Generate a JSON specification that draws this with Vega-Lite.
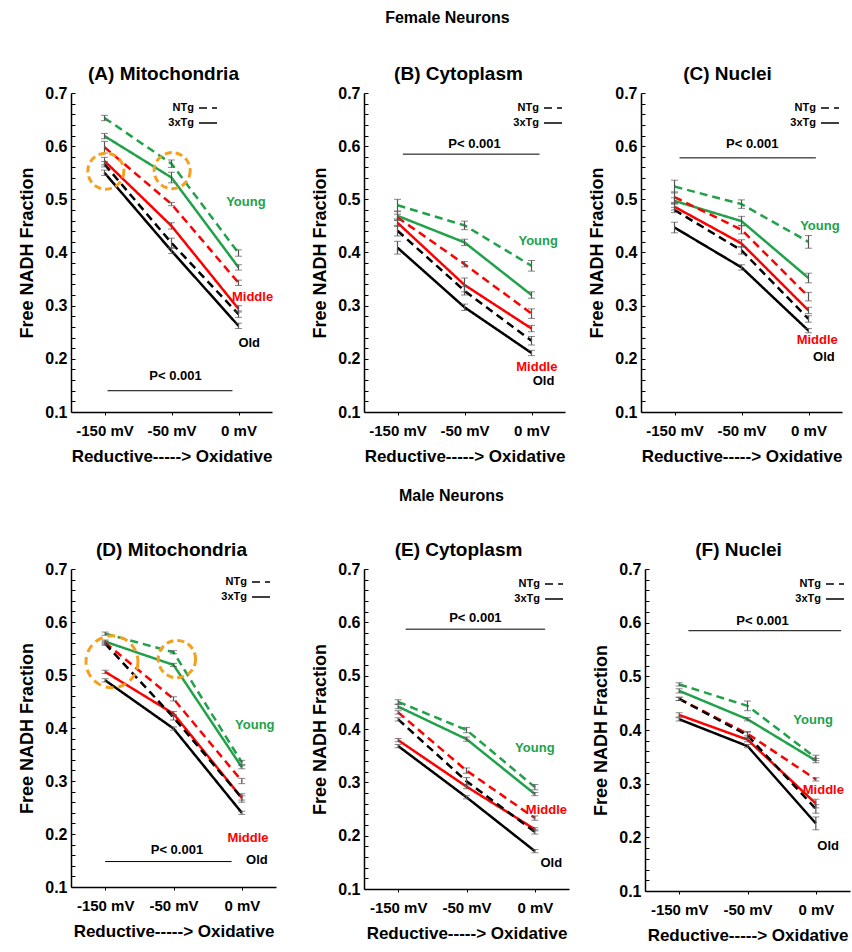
{
  "$schema": "https://vega.github.io/schema/vega-lite/v6.json",
  "background": "white",
  "padding": {"left": 18, "top": 10, "right": 1, "bottom": 1},
  "config": {
    "font": "Liberation Sans",
    "view": {"stroke": null},
    "axis": {"domainColor": "black", "domainWidth": 1.5, "tickColor": "black", "tickWidth": 1, "labelColor": "black", "labelFontWeight": "bold", "titleFontWeight": "bold", "titleColor": "black", "grid": false, "labelFont": "Liberation Sans", "titleFont": "Liberation Sans"},
    "axisY": {"tickSize": -4, "labelPadding": 8, "titlePadding": 8, "labelFontSize": 16, "titleFontSize": 18, "labelOverlap": false},
    "axisX": {"tickSize": 3, "labelPadding": 8, "titlePadding": 10, "labelFontSize": 15, "titleFontSize": 17, "labelOverlap": false},
    "title": {"font": "Liberation Sans", "fontWeight": "bold", "color": "black"},
    "legend": {"orient": "none", "title": null, "symbolType": "stroke", "symbolSize": 324, "symbolStrokeWidth": 1.5, "symbolStrokeColor": "black", "labelAlign": "right", "labelOffset": -24, "labelFontSize": 11, "labelFontWeight": "bold", "labelColor": "black", "rowPadding": 0}
  },
  "datasets": {
    "series": [
      {"panel": "A", "age": "Young", "genotype": "NTg", "step": 0, "v": 0.653, "se": 0.005},
      {"panel": "A", "age": "Young", "genotype": "NTg", "step": 1, "v": 0.567, "se": 0.007},
      {"panel": "A", "age": "Young", "genotype": "NTg", "step": 2, "v": 0.399, "se": 0.006},
      {"panel": "A", "age": "Young", "genotype": "3xTg", "step": 0, "v": 0.619, "se": 0.005},
      {"panel": "A", "age": "Young", "genotype": "3xTg", "step": 1, "v": 0.541, "se": 0.01},
      {"panel": "A", "age": "Young", "genotype": "3xTg", "step": 2, "v": 0.372, "se": 0.005},
      {"panel": "A", "age": "Middle", "genotype": "NTg", "step": 0, "v": 0.598, "se": 0.011},
      {"panel": "A", "age": "Middle", "genotype": "NTg", "step": 1, "v": 0.491, "se": 0.003},
      {"panel": "A", "age": "Middle", "genotype": "NTg", "step": 2, "v": 0.343, "se": 0.005},
      {"panel": "A", "age": "Middle", "genotype": "3xTg", "step": 0, "v": 0.572, "se": 0.007},
      {"panel": "A", "age": "Middle", "genotype": "3xTg", "step": 1, "v": 0.45, "se": 0.006},
      {"panel": "A", "age": "Middle", "genotype": "3xTg", "step": 2, "v": 0.294, "se": 0.006},
      {"panel": "A", "age": "Old", "genotype": "NTg", "step": 0, "v": 0.566, "se": 0.005},
      {"panel": "A", "age": "Old", "genotype": "NTg", "step": 1, "v": 0.418, "se": 0.009},
      {"panel": "A", "age": "Old", "genotype": "NTg", "step": 2, "v": 0.284, "se": 0.006},
      {"panel": "A", "age": "Old", "genotype": "3xTg", "step": 0, "v": 0.55, "se": 0.005},
      {"panel": "A", "age": "Old", "genotype": "3xTg", "step": 1, "v": 0.403, "se": 0.005},
      {"panel": "A", "age": "Old", "genotype": "3xTg", "step": 2, "v": 0.262, "se": 0.005},

      {"panel": "B", "age": "Young", "genotype": "NTg", "step": 0, "v": 0.489, "se": 0.011},
      {"panel": "B", "age": "Young", "genotype": "NTg", "step": 1, "v": 0.451, "se": 0.008},
      {"panel": "B", "age": "Young", "genotype": "NTg", "step": 2, "v": 0.375, "se": 0.01},
      {"panel": "B", "age": "Young", "genotype": "3xTg", "step": 0, "v": 0.469, "se": 0.008},
      {"panel": "B", "age": "Young", "genotype": "3xTg", "step": 1, "v": 0.419, "se": 0.006},
      {"panel": "B", "age": "Young", "genotype": "3xTg", "step": 2, "v": 0.32, "se": 0.006},
      {"panel": "B", "age": "Middle", "genotype": "NTg", "step": 0, "v": 0.466, "se": 0.006},
      {"panel": "B", "age": "Middle", "genotype": "NTg", "step": 1, "v": 0.378, "se": 0.005},
      {"panel": "B", "age": "Middle", "genotype": "NTg", "step": 2, "v": 0.285, "se": 0.009},
      {"panel": "B", "age": "Middle", "genotype": "3xTg", "step": 0, "v": 0.456, "se": 0.007},
      {"panel": "B", "age": "Middle", "genotype": "3xTg", "step": 1, "v": 0.339, "se": 0.013},
      {"panel": "B", "age": "Middle", "genotype": "3xTg", "step": 2, "v": 0.257, "se": 0.006},
      {"panel": "B", "age": "Old", "genotype": "NTg", "step": 0, "v": 0.441, "se": 0.01},
      {"panel": "B", "age": "Old", "genotype": "NTg", "step": 1, "v": 0.328, "se": 0.008},
      {"panel": "B", "age": "Old", "genotype": "NTg", "step": 2, "v": 0.234, "se": 0.008},
      {"panel": "B", "age": "Old", "genotype": "3xTg", "step": 0, "v": 0.409, "se": 0.012},
      {"panel": "B", "age": "Old", "genotype": "3xTg", "step": 1, "v": 0.297, "se": 0.006},
      {"panel": "B", "age": "Old", "genotype": "3xTg", "step": 2, "v": 0.211, "se": 0.005},

      {"panel": "C", "age": "Young", "genotype": "NTg", "step": 0, "v": 0.524, "se": 0.012},
      {"panel": "C", "age": "Young", "genotype": "NTg", "step": 1, "v": 0.491, "se": 0.008},
      {"panel": "C", "age": "Young", "genotype": "NTg", "step": 2, "v": 0.42, "se": 0.012},
      {"panel": "C", "age": "Young", "genotype": "3xTg", "step": 0, "v": 0.497, "se": 0.006},
      {"panel": "C", "age": "Young", "genotype": "3xTg", "step": 1, "v": 0.459, "se": 0.009},
      {"panel": "C", "age": "Young", "genotype": "3xTg", "step": 2, "v": 0.352, "se": 0.009},
      {"panel": "C", "age": "Middle", "genotype": "NTg", "step": 0, "v": 0.504, "se": 0.01},
      {"panel": "C", "age": "Middle", "genotype": "NTg", "step": 1, "v": 0.443, "se": 0.008},
      {"panel": "C", "age": "Middle", "genotype": "NTg", "step": 2, "v": 0.317, "se": 0.008},
      {"panel": "C", "age": "Middle", "genotype": "3xTg", "step": 0, "v": 0.486, "se": 0.006},
      {"panel": "C", "age": "Middle", "genotype": "3xTg", "step": 1, "v": 0.417, "se": 0.007},
      {"panel": "C", "age": "Middle", "genotype": "3xTg", "step": 2, "v": 0.291, "se": 0.006},
      {"panel": "C", "age": "Old", "genotype": "NTg", "step": 0, "v": 0.48, "se": 0.005},
      {"panel": "C", "age": "Old", "genotype": "NTg", "step": 1, "v": 0.404, "se": 0.007},
      {"panel": "C", "age": "Old", "genotype": "NTg", "step": 2, "v": 0.275, "se": 0.006},
      {"panel": "C", "age": "Old", "genotype": "3xTg", "step": 0, "v": 0.447, "se": 0.01},
      {"panel": "C", "age": "Old", "genotype": "3xTg", "step": 1, "v": 0.372, "se": 0.005},
      {"panel": "C", "age": "Old", "genotype": "3xTg", "step": 2, "v": 0.253, "se": 0.004},

      {"panel": "D", "age": "Young", "genotype": "NTg", "step": 0, "v": 0.578, "se": 0.003},
      {"panel": "D", "age": "Young", "genotype": "NTg", "step": 1, "v": 0.543, "se": 0.003},
      {"panel": "D", "age": "Young", "genotype": "NTg", "step": 2, "v": 0.335, "se": 0.004},
      {"panel": "D", "age": "Young", "genotype": "3xTg", "step": 0, "v": 0.563, "se": 0.003},
      {"panel": "D", "age": "Young", "genotype": "3xTg", "step": 1, "v": 0.519, "se": 0.003},
      {"panel": "D", "age": "Young", "genotype": "3xTg", "step": 2, "v": 0.326, "se": 0.003},
      {"panel": "D", "age": "Middle", "genotype": "NTg", "step": 0, "v": 0.561, "se": 0.003},
      {"panel": "D", "age": "Middle", "genotype": "NTg", "step": 1, "v": 0.455, "se": 0.004},
      {"panel": "D", "age": "Middle", "genotype": "NTg", "step": 2, "v": 0.3, "se": 0.005},
      {"panel": "D", "age": "Middle", "genotype": "3xTg", "step": 0, "v": 0.506, "se": 0.003},
      {"panel": "D", "age": "Middle", "genotype": "3xTg", "step": 1, "v": 0.427, "se": 0.004},
      {"panel": "D", "age": "Middle", "genotype": "3xTg", "step": 2, "v": 0.268, "se": 0.004},
      {"panel": "D", "age": "Old", "genotype": "NTg", "step": 0, "v": 0.559, "se": 0.003},
      {"panel": "D", "age": "Old", "genotype": "NTg", "step": 1, "v": 0.42, "se": 0.005},
      {"panel": "D", "age": "Old", "genotype": "NTg", "step": 2, "v": 0.268, "se": 0.008},
      {"panel": "D", "age": "Old", "genotype": "3xTg", "step": 0, "v": 0.49, "se": 0.003},
      {"panel": "D", "age": "Old", "genotype": "3xTg", "step": 1, "v": 0.399, "se": 0.003},
      {"panel": "D", "age": "Old", "genotype": "3xTg", "step": 2, "v": 0.24, "se": 0.003},

      {"panel": "E", "age": "Young", "genotype": "NTg", "step": 0, "v": 0.451, "se": 0.004},
      {"panel": "E", "age": "Young", "genotype": "NTg", "step": 1, "v": 0.398, "se": 0.005},
      {"panel": "E", "age": "Young", "genotype": "NTg", "step": 2, "v": 0.291, "se": 0.005},
      {"panel": "E", "age": "Young", "genotype": "3xTg", "step": 0, "v": 0.442, "se": 0.004},
      {"panel": "E", "age": "Young", "genotype": "3xTg", "step": 1, "v": 0.381, "se": 0.004},
      {"panel": "E", "age": "Young", "genotype": "3xTg", "step": 2, "v": 0.278, "se": 0.003},
      {"panel": "E", "age": "Middle", "genotype": "NTg", "step": 0, "v": 0.431, "se": 0.003},
      {"panel": "E", "age": "Middle", "genotype": "NTg", "step": 1, "v": 0.322, "se": 0.005},
      {"panel": "E", "age": "Middle", "genotype": "NTg", "step": 2, "v": 0.233, "se": 0.004},
      {"panel": "E", "age": "Middle", "genotype": "3xTg", "step": 0, "v": 0.379, "se": 0.003},
      {"panel": "E", "age": "Middle", "genotype": "3xTg", "step": 1, "v": 0.292, "se": 0.004},
      {"panel": "E", "age": "Middle", "genotype": "3xTg", "step": 2, "v": 0.212, "se": 0.003},
      {"panel": "E", "age": "Old", "genotype": "NTg", "step": 0, "v": 0.418, "se": 0.003},
      {"panel": "E", "age": "Old", "genotype": "NTg", "step": 1, "v": 0.302, "se": 0.007},
      {"panel": "E", "age": "Old", "genotype": "NTg", "step": 2, "v": 0.207, "se": 0.004},
      {"panel": "E", "age": "Old", "genotype": "3xTg", "step": 0, "v": 0.368, "se": 0.003},
      {"panel": "E", "age": "Old", "genotype": "3xTg", "step": 1, "v": 0.272, "se": 0.003},
      {"panel": "E", "age": "Old", "genotype": "3xTg", "step": 2, "v": 0.171, "se": 0.003},

      {"panel": "F", "age": "Young", "genotype": "NTg", "step": 0, "v": 0.485, "se": 0.003},
      {"panel": "F", "age": "Young", "genotype": "NTg", "step": 1, "v": 0.445, "se": 0.009},
      {"panel": "F", "age": "Young", "genotype": "NTg", "step": 2, "v": 0.348, "se": 0.005},
      {"panel": "F", "age": "Young", "genotype": "3xTg", "step": 0, "v": 0.473, "se": 0.004},
      {"panel": "F", "age": "Young", "genotype": "3xTg", "step": 1, "v": 0.42, "se": 0.003},
      {"panel": "F", "age": "Young", "genotype": "3xTg", "step": 2, "v": 0.343, "se": 0.004},
      {"panel": "F", "age": "Middle", "genotype": "NTg", "step": 0, "v": 0.458, "se": 0.003},
      {"panel": "F", "age": "Middle", "genotype": "NTg", "step": 1, "v": 0.393, "se": 0.004},
      {"panel": "F", "age": "Middle", "genotype": "NTg", "step": 2, "v": 0.308, "se": 0.003},
      {"panel": "F", "age": "Middle", "genotype": "3xTg", "step": 0, "v": 0.428, "se": 0.004},
      {"panel": "F", "age": "Middle", "genotype": "3xTg", "step": 1, "v": 0.382, "se": 0.004},
      {"panel": "F", "age": "Middle", "genotype": "3xTg", "step": 2, "v": 0.263, "se": 0.008},
      {"panel": "F", "age": "Old", "genotype": "NTg", "step": 0, "v": 0.458, "se": 0.003},
      {"panel": "F", "age": "Old", "genotype": "NTg", "step": 1, "v": 0.39, "se": 0.006},
      {"panel": "F", "age": "Old", "genotype": "NTg", "step": 2, "v": 0.253, "se": 0.008},
      {"panel": "F", "age": "Old", "genotype": "3xTg", "step": 0, "v": 0.42, "se": 0.003},
      {"panel": "F", "age": "Old", "genotype": "3xTg", "step": 1, "v": 0.37, "se": 0.003},
      {"panel": "F", "age": "Old", "genotype": "3xTg", "step": 2, "v": 0.226, "se": 0.012}
    ],
    "notes": [
      {"panel": "A", "kind": "age", "age": "Young", "label": "Young", "step": 2.11, "v": 0.495},
      {"panel": "A", "kind": "age", "age": "Middle", "label": "Middle", "step": 2.21, "v": 0.316},
      {"panel": "A", "kind": "age", "age": "Old", "label": "Old", "step": 2.16, "v": 0.23},
      {"panel": "A", "kind": "ptext", "label": "P< 0.001", "step": 1.06, "v": 0.167},
      {"panel": "A", "kind": "prule", "step": 0.045, "step2": 1.91, "v": 0.14},
      {"panel": "B", "kind": "age", "age": "Young", "label": "Young", "step": 2.1, "v": 0.421},
      {"panel": "B", "kind": "age", "age": "Middle", "label": "Middle", "step": 2.08, "v": 0.185},
      {"panel": "B", "kind": "age", "age": "Old", "label": "Old", "step": 2.18, "v": 0.158},
      {"panel": "B", "kind": "ptext", "label": "P< 0.001", "step": 1.15, "v": 0.605},
      {"panel": "B", "kind": "prule", "step": 0.08, "step2": 2.12, "v": 0.585},
      {"panel": "C", "kind": "age", "age": "Young", "label": "Young", "step": 2.17, "v": 0.45},
      {"panel": "C", "kind": "age", "age": "Middle", "label": "Middle", "step": 2.13, "v": 0.236},
      {"panel": "C", "kind": "age", "age": "Old", "label": "Old", "step": 2.23, "v": 0.203},
      {"panel": "C", "kind": "ptext", "label": "P< 0.001", "step": 1.16, "v": 0.604},
      {"panel": "C", "kind": "prule", "step": 0.075, "step2": 2.11, "v": 0.578},
      {"panel": "D", "kind": "age", "age": "Young", "label": "Young", "step": 2.19, "v": 0.406},
      {"panel": "D", "kind": "age", "age": "Middle", "label": "Middle", "step": 2.09, "v": 0.193},
      {"panel": "D", "kind": "age", "age": "Old", "label": "Old", "step": 2.22, "v": 0.151},
      {"panel": "D", "kind": "ptext", "label": "P< 0.001", "step": 1.05, "v": 0.17},
      {"panel": "D", "kind": "prule", "step": 0, "step2": 1.85, "v": 0.148},
      {"panel": "E", "kind": "age", "age": "Young", "label": "Young", "step": 2.0, "v": 0.365},
      {"panel": "E", "kind": "age", "age": "Middle", "label": "Middle", "step": 2.17, "v": 0.249},
      {"panel": "E", "kind": "age", "age": "Old", "label": "Old", "step": 2.24, "v": 0.148},
      {"panel": "E", "kind": "ptext", "label": "P< 0.001", "step": 1.13, "v": 0.608},
      {"panel": "E", "kind": "prule", "step": 0.11, "step2": 2.15, "v": 0.587},
      {"panel": "F", "kind": "age", "age": "Young", "label": "Young", "step": 1.96, "v": 0.418},
      {"panel": "F", "kind": "age", "age": "Middle", "label": "Middle", "step": 2.11, "v": 0.288},
      {"panel": "F", "kind": "age", "age": "Old", "label": "Old", "step": 2.18, "v": 0.184},
      {"panel": "F", "kind": "ptext", "label": "P< 0.001", "step": 1.22, "v": 0.603},
      {"panel": "F", "kind": "prule", "step": 0.135, "step2": 2.37, "v": 0.585}
    ],
    "rings": [
      {"panel": "A", "ring": "first", "step": 0.02, "v": 0.553},
      {"panel": "A", "ring": "second", "step": 1.01, "v": 0.554},
      {"panel": "D", "ring": "first", "step": 0.1, "v": 0.525},
      {"panel": "D", "ring": "second", "step": 1.05, "v": 0.53}
    ]
  },
  "resolve": {"scale": {"color": "independent", "strokeDash": "independent"}, "legend": {"strokeDash": "independent", "color": "independent"}},
  "spacing": 24,
  "vconcat": [
    {
      "title": {"text": "Female Neurons", "fontSize": 16, "anchor": "middle", "offset": 39, "dx": 17},
      "spacing": 37,
      "resolve": {"scale": {"color": "independent", "strokeDash": "independent"}, "legend": {"strokeDash": "independent", "color": "independent"}},
      "hconcat": [
        {
          "width": 201, "height": 319,
          "title": {"text": "(A) Mitochondria", "fontSize": 19, "anchor": "middle", "frame": "group", "offset": 1, "dx": -8},
          "encoding": {
            "x": {"field": "step", "type": "quantitative", "scale": {"domain": [-0.5, 2.5]}, "axis": {"values": [0, 1, 2], "labelExpr": "datum.value === 0 ? '-150 mV' : datum.value === 1 ? '-50 mV' : '0 mV'", "title": "Reductive-----> Oxidative"}},
            "y": {"field": "v", "type": "quantitative", "scale": {"domain": [0.1, 0.7]}, "axis": {"values": [0.1,0.12,0.14,0.16,0.18,0.2,0.22,0.24,0.26,0.28,0.3,0.32,0.34,0.36,0.38,0.4,0.42,0.44,0.46,0.48,0.5,0.52,0.54,0.56,0.58,0.6,0.62,0.64,0.66,0.68,0.7], "labelExpr": "round(datum.value*100) % 10 === 0 ? format(datum.value, '.1f') : ''", "title": "Free NADH Fraction"}}
          },
          "layer": [
            {"data": {"name": "series"}, "transform": [{"filter": "datum.panel === 'A'"}], "mark": {"type": "line", "strokeWidth": 2.5},
             "encoding": {"color": {"field": "age", "type": "nominal", "scale": {"domain": ["Young", "Middle", "Old"], "range": ["#21a24a", "#ff0000", "#000000"]}, "legend": null},
                          "strokeDash": {"field": "genotype", "type": "nominal", "scale": {"domain": ["NTg", "3xTg"], "range": [[8, 5], [1, 0]]}, "legend": {"legendX": 127, "legendY": 5, "encode": {"symbols": {"update": {"strokeDash": {"signal": "datum.value === 'NTg' ? [4, 3] : [1, 0]"}, "stroke": {"value": "black"}}}}}}}},
            {"data": {"name": "series"}, "transform": [{"filter": "datum.panel === 'A'"}], "mark": {"type": "errorbar", "color": "#555555", "ticks": {"size": 7, "strokeWidth": 1.2}, "rule": {"strokeWidth": 1.2}}, "encoding": {"yError": {"field": "se"}}},
            {"data": {"name": "rings"}, "transform": [{"filter": "datum.panel === 'A'"}], "mark": {"type": "point", "shape": "circle", "size": 1300, "filled": false, "stroke": "#f5a01e", "strokeWidth": 3, "strokeDash": [7, 4], "opacity": 1}},
            {"data": {"name": "notes"}, "transform": [{"filter": "datum.panel === 'A' && datum.kind === 'age'"}], "mark": {"type": "text", "fontSize": 13, "fontWeight": "bold"}, "encoding": {"text": {"field": "label"}, "color": {"field": "age", "type": "nominal", "scale": {"domain": ["Young", "Middle", "Old"], "range": ["#21a24a", "#ff0000", "#000000"]}, "legend": null}}},
            {"data": {"name": "notes"}, "transform": [{"filter": "datum.panel === 'A' && datum.kind === 'prule'"}], "mark": {"type": "rule", "color": "black", "strokeWidth": 1}, "encoding": {"x2": {"field": "step2"}}},
            {"data": {"name": "notes"}, "transform": [{"filter": "datum.panel === 'A' && datum.kind === 'ptext'"}], "mark": {"type": "text", "fontSize": 13, "fontWeight": "bold", "color": "black"}, "encoding": {"text": {"field": "label"}}}
          ]
        },
        {
          "spacing": 23,
          "resolve": {"scale": {"color": "independent", "strokeDash": "independent"}, "legend": {"strokeDash": "independent", "color": "independent"}},
          "hconcat": [
            {
              "width": 201, "height": 319,
              "title": {"text": "(B) Cytoplasm", "fontSize": 19, "anchor": "middle", "frame": "group", "offset": 1, "dx": -6},
              "encoding": {
                "x": {"field": "step", "type": "quantitative", "scale": {"domain": [-0.5, 2.5]}, "axis": {"values": [0, 1, 2], "labelExpr": "datum.value === 0 ? '-150 mV' : datum.value === 1 ? '-50 mV' : '0 mV'", "title": "Reductive-----> Oxidative"}},
                "y": {"field": "v", "type": "quantitative", "scale": {"domain": [0.1, 0.7]}, "axis": {"values": [0.1,0.12,0.14,0.16,0.18,0.2,0.22,0.24,0.26,0.28,0.3,0.32,0.34,0.36,0.38,0.4,0.42,0.44,0.46,0.48,0.5,0.52,0.54,0.56,0.58,0.6,0.62,0.64,0.66,0.68,0.7], "labelExpr": "round(datum.value*100) % 10 === 0 ? format(datum.value, '.1f') : ''", "title": "Free NADH Fraction"}}
              },
              "layer": [
                {"data": {"name": "series"}, "transform": [{"filter": "datum.panel === 'B'"}], "mark": {"type": "line", "strokeWidth": 2.5},
                 "encoding": {"color": {"field": "age", "type": "nominal", "scale": {"domain": ["Young", "Middle", "Old"], "range": ["#21a24a", "#ff0000", "#000000"]}, "legend": null},
                              "strokeDash": {"field": "genotype", "type": "nominal", "scale": {"domain": ["NTg", "3xTg"], "range": [[8, 5], [1, 0]]}, "legend": {"legendX": 179, "legendY": 5, "encode": {"symbols": {"update": {"strokeDash": {"signal": "datum.value === 'NTg' ? [4, 3] : [1, 0]"}, "stroke": {"value": "black"}}}}}}}},
                {"data": {"name": "series"}, "transform": [{"filter": "datum.panel === 'B'"}], "mark": {"type": "errorbar", "color": "#555555", "ticks": {"size": 7, "strokeWidth": 1.2}, "rule": {"strokeWidth": 1.2}}, "encoding": {"yError": {"field": "se"}}},
                {"data": {"name": "notes"}, "transform": [{"filter": "datum.panel === 'B' && datum.kind === 'age'"}], "mark": {"type": "text", "fontSize": 13, "fontWeight": "bold"}, "encoding": {"text": {"field": "label"}, "color": {"field": "age", "type": "nominal", "scale": {"domain": ["Young", "Middle", "Old"], "range": ["#21a24a", "#ff0000", "#000000"]}, "legend": null}}},
                {"data": {"name": "notes"}, "transform": [{"filter": "datum.panel === 'B' && datum.kind === 'prule'"}], "mark": {"type": "rule", "color": "black", "strokeWidth": 1}, "encoding": {"x2": {"field": "step2"}}},
                {"data": {"name": "notes"}, "transform": [{"filter": "datum.panel === 'B' && datum.kind === 'ptext'"}], "mark": {"type": "text", "fontSize": 13, "fontWeight": "bold", "color": "black"}, "encoding": {"text": {"field": "label"}}}
              ]
            },
            {
              "width": 201, "height": 319,
              "title": {"text": "(C) Nuclei", "fontSize": 19, "anchor": "middle", "frame": "group", "offset": 1, "dx": -14},
              "encoding": {
                "x": {"field": "step", "type": "quantitative", "scale": {"domain": [-0.5, 2.5]}, "axis": {"values": [0, 1, 2], "labelExpr": "datum.value === 0 ? '-150 mV' : datum.value === 1 ? '-50 mV' : '0 mV'", "title": "Reductive-----> Oxidative"}},
                "y": {"field": "v", "type": "quantitative", "scale": {"domain": [0.1, 0.7]}, "axis": {"values": [0.1,0.12,0.14,0.16,0.18,0.2,0.22,0.24,0.26,0.28,0.3,0.32,0.34,0.36,0.38,0.4,0.42,0.44,0.46,0.48,0.5,0.52,0.54,0.56,0.58,0.6,0.62,0.64,0.66,0.68,0.7], "labelExpr": "round(datum.value*100) % 10 === 0 ? format(datum.value, '.1f') : ''", "title": "Free NADH Fraction"}}
              },
              "layer": [
                {"data": {"name": "series"}, "transform": [{"filter": "datum.panel === 'C'"}], "mark": {"type": "line", "strokeWidth": 2.5},
                 "encoding": {"color": {"field": "age", "type": "nominal", "scale": {"domain": ["Young", "Middle", "Old"], "range": ["#21a24a", "#ff0000", "#000000"]}, "legend": null},
                              "strokeDash": {"field": "genotype", "type": "nominal", "scale": {"domain": ["NTg", "3xTg"], "range": [[8, 5], [1, 0]]}, "legend": {"legendX": 179, "legendY": 5, "encode": {"symbols": {"update": {"strokeDash": {"signal": "datum.value === 'NTg' ? [4, 3] : [1, 0]"}, "stroke": {"value": "black"}}}}}}}},
                {"data": {"name": "series"}, "transform": [{"filter": "datum.panel === 'C'"}], "mark": {"type": "errorbar", "color": "#555555", "ticks": {"size": 7, "strokeWidth": 1.2}, "rule": {"strokeWidth": 1.2}}, "encoding": {"yError": {"field": "se"}}},
                {"data": {"name": "notes"}, "transform": [{"filter": "datum.panel === 'C' && datum.kind === 'age'"}], "mark": {"type": "text", "fontSize": 13, "fontWeight": "bold"}, "encoding": {"text": {"field": "label"}, "color": {"field": "age", "type": "nominal", "scale": {"domain": ["Young", "Middle", "Old"], "range": ["#21a24a", "#ff0000", "#000000"]}, "legend": null}}},
                {"data": {"name": "notes"}, "transform": [{"filter": "datum.panel === 'C' && datum.kind === 'prule'"}], "mark": {"type": "rule", "color": "black", "strokeWidth": 1}, "encoding": {"x2": {"field": "step2"}}},
                {"data": {"name": "notes"}, "transform": [{"filter": "datum.panel === 'C' && datum.kind === 'ptext'"}], "mark": {"type": "text", "fontSize": 13, "fontWeight": "bold", "color": "black"}, "encoding": {"text": {"field": "label"}}}
              ]
            }
          ]
        }
      ]
    },
    {
      "title": {"text": "Male Neurons", "fontSize": 16, "anchor": "middle", "offset": 37, "dx": 17},
      "spacing": 35,
      "resolve": {"scale": {"color": "independent", "strokeDash": "independent"}, "legend": {"strokeDash": "independent", "color": "independent"}},
      "hconcat": [
        {
          "width": 205, "height": 318,
          "title": {"text": "(D) Mitochondria", "fontSize": 19, "anchor": "middle", "frame": "group", "offset": 1, "dx": -2},
          "encoding": {
            "x": {"field": "step", "type": "quantitative", "scale": {"domain": [-0.5, 2.5]}, "axis": {"values": [0, 1, 2], "labelExpr": "datum.value === 0 ? '-150 mV' : datum.value === 1 ? '-50 mV' : '0 mV'", "title": "Reductive-----> Oxidative"}},
            "y": {"field": "v", "type": "quantitative", "scale": {"domain": [0.1, 0.7]}, "axis": {"values": [0.1,0.12,0.14,0.16,0.18,0.2,0.22,0.24,0.26,0.28,0.3,0.32,0.34,0.36,0.38,0.4,0.42,0.44,0.46,0.48,0.5,0.52,0.54,0.56,0.58,0.6,0.62,0.64,0.66,0.68,0.7], "labelExpr": "round(datum.value*100) % 10 === 0 ? format(datum.value, '.1f') : ''", "title": "Free NADH Fraction"}}
          },
          "layer": [
            {"data": {"name": "series"}, "transform": [{"filter": "datum.panel === 'D'"}], "mark": {"type": "line", "strokeWidth": 2.5},
             "encoding": {"color": {"field": "age", "type": "nominal", "scale": {"domain": ["Young", "Middle", "Old"], "range": ["#21a24a", "#ff0000", "#000000"]}, "legend": null},
                          "strokeDash": {"field": "genotype", "type": "nominal", "scale": {"domain": ["NTg", "3xTg"], "range": [[8, 5], [1, 0]]}, "legend": {"legendX": 180, "legendY": 3, "encode": {"symbols": {"update": {"strokeDash": {"signal": "datum.value === 'NTg' ? [4, 3] : [1, 0]"}, "stroke": {"value": "black"}}}}}}}},
            {"data": {"name": "series"}, "transform": [{"filter": "datum.panel === 'D'"}], "mark": {"type": "errorbar", "color": "#555555", "ticks": {"size": 7, "strokeWidth": 1.2}, "rule": {"strokeWidth": 1.2}}, "encoding": {"yError": {"field": "se"}}},
            {"data": {"name": "rings"}, "transform": [{"filter": "datum.panel === 'D' && datum.ring === 'first'"}], "mark": {"type": "point", "shape": "circle", "size": 2700, "filled": false, "stroke": "#f5a01e", "strokeWidth": 3, "strokeDash": [8, 5], "opacity": 1}},
            {"data": {"name": "rings"}, "transform": [{"filter": "datum.panel === 'D' && datum.ring === 'second'"}], "mark": {"type": "point", "shape": "circle", "size": 1400, "filled": false, "stroke": "#f5a01e", "strokeWidth": 3, "strokeDash": [7, 4], "opacity": 1}},
            {"data": {"name": "notes"}, "transform": [{"filter": "datum.panel === 'D' && datum.kind === 'age'"}], "mark": {"type": "text", "fontSize": 13, "fontWeight": "bold"}, "encoding": {"text": {"field": "label"}, "color": {"field": "age", "type": "nominal", "scale": {"domain": ["Young", "Middle", "Old"], "range": ["#21a24a", "#ff0000", "#000000"]}, "legend": null}}},
            {"data": {"name": "notes"}, "transform": [{"filter": "datum.panel === 'D' && datum.kind === 'prule'"}], "mark": {"type": "rule", "color": "black", "strokeWidth": 1}, "encoding": {"x2": {"field": "step2"}}},
            {"data": {"name": "notes"}, "transform": [{"filter": "datum.panel === 'D' && datum.kind === 'ptext'"}], "mark": {"type": "text", "fontSize": 13, "fontWeight": "bold", "color": "black"}, "encoding": {"text": {"field": "label"}}}
          ]
        },
        {
          "spacing": 23,
          "resolve": {"scale": {"color": "independent", "strokeDash": "independent"}, "legend": {"strokeDash": "independent", "color": "independent"}},
          "hconcat": [
            {
              "width": 205, "height": 320,
              "title": {"text": "(E) Cytoplasm", "fontSize": 19, "anchor": "middle", "frame": "group", "offset": 1, "dx": -8},
              "encoding": {
                "x": {"field": "step", "type": "quantitative", "scale": {"domain": [-0.5, 2.5]}, "axis": {"values": [0, 1, 2], "labelExpr": "datum.value === 0 ? '-150 mV' : datum.value === 1 ? '-50 mV' : '0 mV'", "title": "Reductive-----> Oxidative"}},
                "y": {"field": "v", "type": "quantitative", "scale": {"domain": [0.1, 0.7]}, "axis": {"values": [0.1,0.12,0.14,0.16,0.18,0.2,0.22,0.24,0.26,0.28,0.3,0.32,0.34,0.36,0.38,0.4,0.42,0.44,0.46,0.48,0.5,0.52,0.54,0.56,0.58,0.6,0.62,0.64,0.66,0.68,0.7], "labelExpr": "round(datum.value*100) % 10 === 0 ? format(datum.value, '.1f') : ''", "title": "Free NADH Fraction"}}
              },
              "layer": [
                {"data": {"name": "series"}, "transform": [{"filter": "datum.panel === 'E'"}], "mark": {"type": "line", "strokeWidth": 2.5},
                 "encoding": {"color": {"field": "age", "type": "nominal", "scale": {"domain": ["Young", "Middle", "Old"], "range": ["#21a24a", "#ff0000", "#000000"]}, "legend": null},
                              "strokeDash": {"field": "genotype", "type": "nominal", "scale": {"domain": ["NTg", "3xTg"], "range": [[8, 5], [1, 0]]}, "legend": {"legendX": 180, "legendY": 5, "encode": {"symbols": {"update": {"strokeDash": {"signal": "datum.value === 'NTg' ? [4, 3] : [1, 0]"}, "stroke": {"value": "black"}}}}}}}},
                {"data": {"name": "series"}, "transform": [{"filter": "datum.panel === 'E'"}], "mark": {"type": "errorbar", "color": "#555555", "ticks": {"size": 7, "strokeWidth": 1.2}, "rule": {"strokeWidth": 1.2}}, "encoding": {"yError": {"field": "se"}}},
                {"data": {"name": "notes"}, "transform": [{"filter": "datum.panel === 'E' && datum.kind === 'age'"}], "mark": {"type": "text", "fontSize": 13, "fontWeight": "bold"}, "encoding": {"text": {"field": "label"}, "color": {"field": "age", "type": "nominal", "scale": {"domain": ["Young", "Middle", "Old"], "range": ["#21a24a", "#ff0000", "#000000"]}, "legend": null}}},
                {"data": {"name": "notes"}, "transform": [{"filter": "datum.panel === 'E' && datum.kind === 'prule'"}], "mark": {"type": "rule", "color": "#555555", "strokeWidth": 1.5}, "encoding": {"x2": {"field": "step2"}}},
                {"data": {"name": "notes"}, "transform": [{"filter": "datum.panel === 'E' && datum.kind === 'ptext'"}], "mark": {"type": "text", "fontSize": 13, "fontWeight": "bold", "color": "black"}, "encoding": {"text": {"field": "label"}}}
              ]
            },
            {
              "width": 205, "height": 322,
              "title": {"text": "(F) Nuclei", "fontSize": 19, "anchor": "middle", "frame": "group", "offset": 1, "dx": -9},
              "encoding": {
                "x": {"field": "step", "type": "quantitative", "scale": {"domain": [-0.5, 2.5]}, "axis": {"values": [0, 1, 2], "labelExpr": "datum.value === 0 ? '-150 mV' : datum.value === 1 ? '-50 mV' : '0 mV'", "title": "Reductive-----> Oxidative"}},
                "y": {"field": "v", "type": "quantitative", "scale": {"domain": [0.1, 0.7]}, "axis": {"values": [0.1,0.12,0.14,0.16,0.18,0.2,0.22,0.24,0.26,0.28,0.3,0.32,0.34,0.36,0.38,0.4,0.42,0.44,0.46,0.48,0.5,0.52,0.54,0.56,0.58,0.6,0.62,0.64,0.66,0.68,0.7], "labelExpr": "round(datum.value*100) % 10 === 0 ? format(datum.value, '.1f') : ''", "title": "Free NADH Fraction"}}
              },
              "layer": [
                {"data": {"name": "series"}, "transform": [{"filter": "datum.panel === 'F'"}], "mark": {"type": "line", "strokeWidth": 2.5},
                 "encoding": {"color": {"field": "age", "type": "nominal", "scale": {"domain": ["Young", "Middle", "Old"], "range": ["#21a24a", "#ff0000", "#000000"]}, "legend": null},
                              "strokeDash": {"field": "genotype", "type": "nominal", "scale": {"domain": ["NTg", "3xTg"], "range": [[8, 5], [1, 0]]}, "legend": {"legendX": 180, "legendY": 5, "encode": {"symbols": {"update": {"strokeDash": {"signal": "datum.value === 'NTg' ? [4, 3] : [1, 0]"}, "stroke": {"value": "black"}}}}}}}},
                {"data": {"name": "series"}, "transform": [{"filter": "datum.panel === 'F'"}], "mark": {"type": "errorbar", "color": "#555555", "ticks": {"size": 7, "strokeWidth": 1.2}, "rule": {"strokeWidth": 1.2}}, "encoding": {"yError": {"field": "se"}}},
                {"data": {"name": "notes"}, "transform": [{"filter": "datum.panel === 'F' && datum.kind === 'age'"}], "mark": {"type": "text", "fontSize": 13, "fontWeight": "bold"}, "encoding": {"text": {"field": "label"}, "color": {"field": "age", "type": "nominal", "scale": {"domain": ["Young", "Middle", "Old"], "range": ["#21a24a", "#ff0000", "#000000"]}, "legend": null}}},
                {"data": {"name": "notes"}, "transform": [{"filter": "datum.panel === 'F' && datum.kind === 'prule'"}], "mark": {"type": "rule", "color": "black", "strokeWidth": 1}, "encoding": {"x2": {"field": "step2"}}},
                {"data": {"name": "notes"}, "transform": [{"filter": "datum.panel === 'F' && datum.kind === 'ptext'"}], "mark": {"type": "text", "fontSize": 13, "fontWeight": "bold", "color": "black"}, "encoding": {"text": {"field": "label"}}}
              ]
            }
          ]
        }
      ]
    }
  ]
}
